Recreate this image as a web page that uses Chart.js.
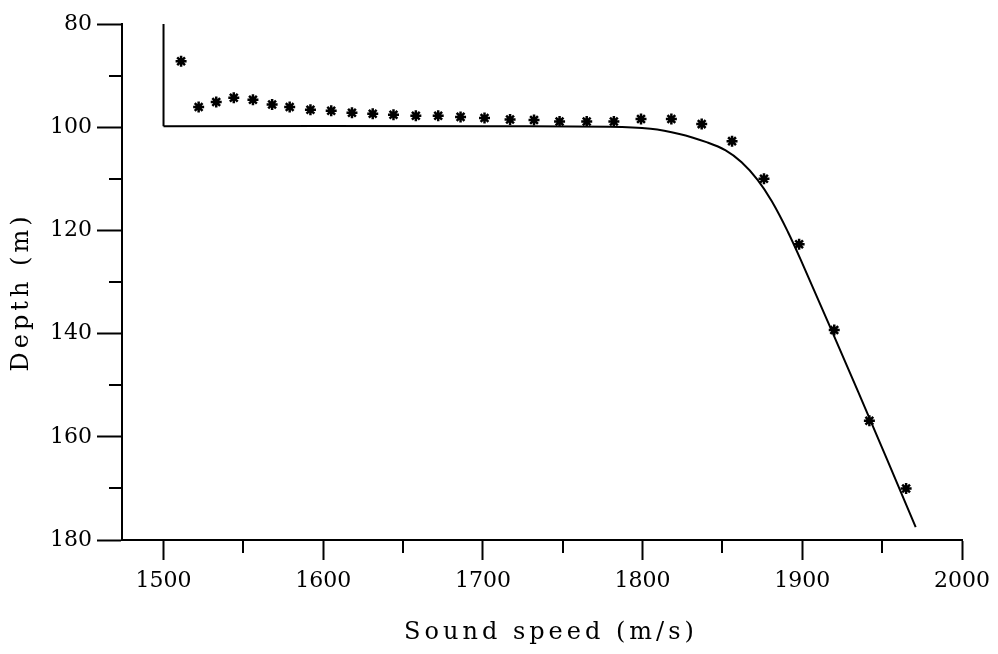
<!DOCTYPE html>
<html>
<head>
<meta charset="utf-8">
<script src="https://cdn.jsdelivr.net/npm/chart.js@4/dist/chart.umd.min.js"></script>
<style>
  body { margin: 0; background: #fff; }
  canvas { display: block; }
</style>
</head>
<body>
<canvas id="chart" width="998" height="654"></canvas>
<script>
// measured points (stars)
const measSpeed = [1511, 1522, 1533, 1544, 1556, 1568, 1579, 1592, 1605, 1618, 1631, 1644, 1658, 1672, 1686,
  1701, 1717, 1732, 1748, 1765, 1782, 1799, 1818, 1837, 1856, 1876, 1898, 1920, 1942, 1965];
const measDepth = [87.2, 96.1, 95.1, 94.3, 94.7, 95.6, 96.1, 96.6, 96.8, 97.2, 97.4, 97.6, 97.8, 97.8, 98.0,
  98.2, 98.5, 98.6, 98.9, 98.9, 98.9, 98.4, 98.4, 99.4, 102.7, 110.0, 122.7, 139.3, 156.9, 170.0];

// model curve (solid line): vertical part, then the smooth profile
const wallSpeed = [1500, 1500];
const wallDepth = [80, 99.8];
const modelSpeed = [1500, 1700, 1780, 1805, 1823, 1840, 1852, 1862, 1872, 1881, 1891, 1900, 1935, 1971];
const modelDepth = [99.8, 99.8, 99.9, 100.3, 101.3, 102.9, 104.5, 106.8, 110.2, 114.4, 120.3, 126.4, 151.3, 177.5];

const xTicks = [1500, 1600, 1700, 1800, 1900, 2000];
const xMinor = [1550, 1650, 1750, 1850, 1950];
const yTicks = [80, 100, 120, 140, 160, 180];
const yMinor = [90, 110, 130, 150, 170];

const xTitle = "Sound speed (m/s)";
const yTitle = "Depth (m)";

const serif = "'DejaVu Serif', 'Liberation Serif', serif";

const toPoints = (xs, ys) => xs.map((x, i) => ({ x: x, y: ys[i] }));

// minor ticks + spaced axis titles
const extras = {
  id: "extras",
  afterDraw(chart) {
    const ctx = chart.ctx;
    const x = chart.scales.x;
    const y = chart.scales.y;
    const area = chart.chartArea;
    ctx.save();
    ctx.strokeStyle = "#000";
    ctx.lineWidth = 2;
    ctx.beginPath();
    xMinor.forEach((v) => {
      const px = Math.round(x.getPixelForValue(v));
      ctx.moveTo(px, area.bottom);
      ctx.lineTo(px, area.bottom + 13);
    });
    yMinor.forEach((v) => {
      const py = Math.round(y.getPixelForValue(v));
      ctx.moveTo(area.left - 13, py);
      ctx.lineTo(area.left, py);
    });
    ctx.stroke();

    ctx.fillStyle = "#000";
    ctx.font = "24px " + serif;
    ctx.letterSpacing = "4px";
    ctx.textAlign = "center";
    ctx.textBaseline = "middle";
    ctx.fillText(xTitle, (area.left + area.right) / 2 + 9, area.bottom + 93);
    ctx.translate(area.left - 100, (area.top + area.bottom) / 2 + 10);
    ctx.rotate(-Math.PI / 2);
    ctx.fillText(yTitle, 0, 0);
    ctx.restore();
  },
};

const lineStyle = {
  type: "line",
  borderColor: "#000",
  borderWidth: 2,
  pointRadius: 0,
  fill: false,
};

new Chart(document.getElementById("chart"), {
  type: "scatter",
  data: {
    datasets: [
      { ...lineStyle, label: "wall", data: toPoints(wallSpeed, wallDepth), tension: 0 },
      { ...lineStyle, label: "model", data: toPoints(modelSpeed, modelDepth), tension: 0.4 },
      {
        label: "measured",
        data: toPoints(measSpeed, measDepth),
        pointStyle: "star",
        pointRadius: 5.5,
        borderColor: "#000",
        borderWidth: 2.5,
        backgroundColor: "#000",
      },
    ],
  },
  options: {
    responsive: false,
    animation: false,
    devicePixelRatio: 1,
    layout: { padding: { left: 42, right: 34, top: 24, bottom: 54 } },
    plugins: {
      legend: { display: false },
      tooltip: { enabled: false },
    },
    scales: {
      x: {
        type: "linear",
        min: 1474,
        max: 2000,
        afterBuildTicks: (s) => { s.ticks = xTicks.map((v) => ({ value: v })); },
        afterFit: (s) => { s.height = 60; },
        border: { display: true, color: "#000", width: 2 },
        grid: { drawOnChartArea: false, drawTicks: true, tickLength: 20, tickWidth: 2, tickColor: "#000" },
        ticks: { color: "#000", font: { family: serif, size: 22 }, padding: 8, maxRotation: 0,
          callback: (v) => String(v) },
      },
      y: {
        type: "linear",
        reverse: true,
        min: 80,
        max: 180,
        afterBuildTicks: (s) => { s.ticks = yTicks.map((v) => ({ value: v })); },
        afterFit: (s) => { s.width = 80; },
        border: { display: true, color: "#000", width: 2 },
        grid: { drawOnChartArea: false, drawTicks: true, tickLength: 25, tickWidth: 2, tickColor: "#000" },
        ticks: { color: "#000", font: { family: serif, size: 22 }, padding: 5,
          callback: (v) => String(v) },
      },
    },
  },
  plugins: [extras],
});
</script>
</body>
</html>
